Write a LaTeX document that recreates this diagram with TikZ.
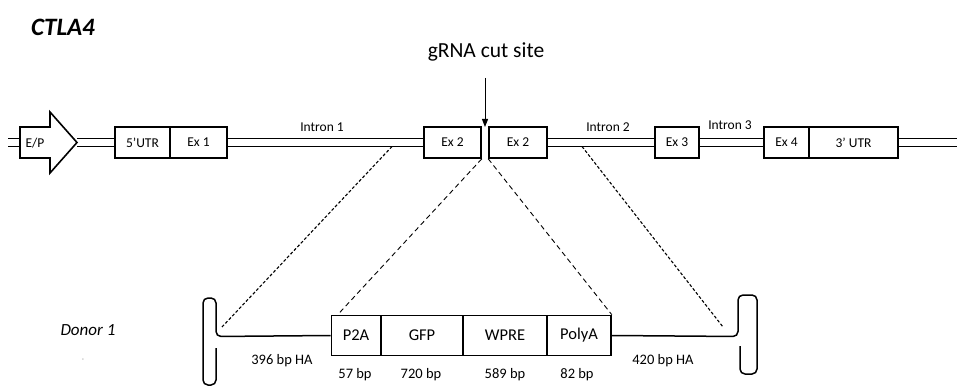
\documentclass[tikz,border=0pt]{standalone}
\usepackage{fontspec}
\setmainfont{Carlito}
\usetikzlibrary{arrows.meta,calc,backgrounds}

\begin{document}
\begin{tikzpicture}[x=1pt,y=-1pt,
  exon/.style={draw, line width=1.6pt, fill=white, rectangle, inner sep=0pt,
    minimum height=31pt, font=\fontsize{13.5}{15}\selectfont},
  cassette/.style={draw, line width=1.6pt, fill=white, rectangle, inner sep=0pt,
    minimum height=40pt, font=\fontsize{16.5}{18}\selectfont},
  dna/.style={double, double distance=6.4pt, line width=1.5pt},
  lbl/.style={inner sep=0pt, font=\fontsize{13.5}{15}\selectfont},
  bplbl/.style={inner sep=0pt, font=\fontsize{14.5}{16}\selectfont},
  armline/.style={line width=1.5pt, rounded corners=5pt},
  outerdash/.style={line width=1.1pt, dash pattern=on 3pt off 2pt},
  innerdash/.style={line width=0.9pt, dash pattern=on 5pt off 3.5pt},
  cutarrow/.style={line width=1pt, -{Triangle[width=6pt,length=8pt]}}]

\useasboundingbox (0,0) rectangle (957,387);

% gene name
\node[inner sep=0pt, font=\fontsize{25}{28}\selectfont\bfseries\itshape] (gene) at (63,27) {CTLA4};

% ends of the backbone and the E/P promoter arrow
\coordinate (lend) at (8,142.5);
\coordinate (epback) at (20,142.5);
\coordinate (eptip) at (77,142.5);
\coordinate (rend) at (957,142.5);

% exons and UTRs of the locus
\node[exon, minimum width=55pt] (utr5) at (142.5,142.5) {5’UTR};
\node[exon, minimum width=57pt] (ex1) at (198.5,142.5) {Ex 1};
\node[exon, minimum width=57pt] (ex2a) at (452.5,142.5) {Ex 2};
\node[exon, minimum width=58pt] (ex2b) at (518,142.5) {Ex 2};
\node[exon, minimum width=44pt] (ex3) at (677,142.5) {Ex 3};
\node[exon, minimum width=45pt] (ex4) at (786.5,142.5) {Ex 4};
\node[exon, minimum width=89pt] (utr3) at (853.5,142.5) {3’ UTR};

% white page and backbone, drawn behind the boxes
\begin{scope}[on background layer]
  \fill[white] (0,0) rectangle (957,387);
  \draw[dna] (lend) -- (epback);
  \draw[dna] (eptip) -- (utr5.center);
  \draw[dna] (ex1.center) -- (ex2a.center);
  \draw[dna] (ex2b.center) -- (ex3.center);
  \draw[dna] (ex3.center) -- (ex4.center);
  \draw[dna] (utr3.center) -- (rend);
\end{scope}

\draw[line width=1.6pt, fill=white, line join=miter]
  (20,127) -- (50,127) -- (50,112) -- (eptip) -- (50,173) -- (50,158) -- (20,158) -- cycle;
\node[lbl] (ep) at (35,143) {E/P};

% intron labels
\node[lbl] (in1) at (322,127) {Intron 1};
\node[lbl] (in2) at (608,127) {Intron 2};
\node[lbl] (in3) at (730,125) {Intron 3};

% cut site
\node[inner sep=0pt, font=\fontsize{21.5}{24}\selectfont] (grna) at (486,52) {gRNA cut site};
\coordinate (cut) at (485,127);
\coordinate (cuttop) at (485,78);
\draw[cutarrow] (cuttop) -- (cut);

% donor cassette
\node[cassette, minimum width=49pt] (p2a) at (356,335.5) {P2A};
\node[cassette, minimum width=82pt] (gfp) at (422,335.5) {GFP};
\node[cassette, minimum width=84pt] (wpre) at (505,335.5) {WPRE};
\node[cassette, minimum width=64pt] (polya) at (579,335.5) {PolyA};

% homology arms with hairpin ends
\draw[armline] (216,348) -- (216,385) -- (203,385) -- (203,298) -- (216,298) -- (216,336.5) -- (p2a.west);
\draw[armline] (polya.east) -- (738,336.5) -- (738,295) -- (757,295) -- (757,374) -- (740,374) -- (740,346);

% mapping of the arms onto the locus
\coordinate (i1) at (392,146.5);
\coordinate (i2) at (582,146.5);
\coordinate (hl) at (222,327);
\coordinate (hr) at (723,327);
\draw[outerdash] (i1) -- (hl);
\draw[outerdash] (i2) -- (hr);
\draw[innerdash] (ex2a.south east) -- ([xshift=7pt]p2a.north west);
\draw[innerdash] (ex2b.south west) -- (polya.north east);

% labels
\node[inner sep=0pt, font=\fontsize{17}{19}\selectfont\itshape] (donor) at (88,330) {Donor 1};
\node[inner sep=0pt, text=gray, font=\fontsize{7}{8}\selectfont] (speck) at (83,360) {-};
\node[bplbl] (ha1) at (282,361) {396 bp HA};
\node[bplbl] (ha2) at (663,361) {420 bp HA};
\node[bplbl] (bp1) at (355,375) {57 bp};
\node[bplbl] (bp2) at (421,375) {720 bp};
\node[bplbl] (bp3) at (505,375) {589 bp};
\node[bplbl] (bp4) at (577,375) {82 bp};
\end{tikzpicture}
\end{document}
